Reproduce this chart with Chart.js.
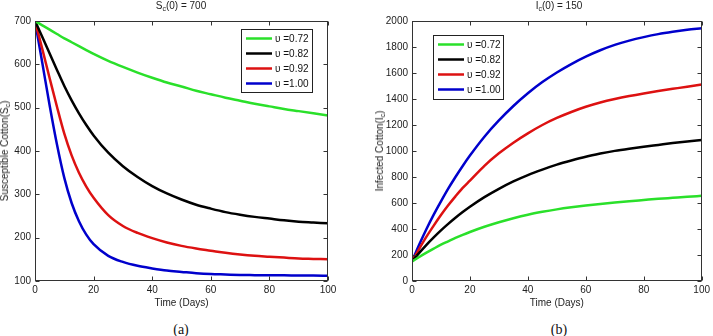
<!DOCTYPE html>
<html><head><meta charset="utf-8">
<script src="https://cdn.jsdelivr.net/npm/chart.js@4.4.0/dist/chart.umd.min.js"></script>
<style>
html,body{margin:0;padding:0;background:#fff;overflow:hidden;width:713px;height:336px;}
.wrap{position:absolute;top:0;}
.txt{position:absolute;font-family:"Liberation Sans",Arial,sans-serif;font-size:10px;color:#222;white-space:nowrap;line-height:12px;}
.txt sub{font-size:7px;vertical-align:-2px;line-height:0;}
.cap{position:absolute;font-family:"Liberation Serif",serif;font-size:14px;color:#111;line-height:14px;}
</style></head><body>
<div class="wrap" style="left:0;width:340px;height:315px;"><canvas id="c1" width="340" height="315"></canvas></div>
<div class="wrap" style="left:377px;width:336px;height:315px;"><canvas id="c2" width="336" height="315"></canvas></div>
<div class="txt" style="left:181px;top:0;transform:translateX(-50%)">S<sub>c</sub>(0) = 700</div>
<div class="txt" style="left:559px;top:0;transform:translateX(-50%)">I<sub>c</sub>(0) = 150</div>
<div class="txt" style="left:5px;top:151px;transform:translate(-50%,-50%) rotate(-90deg)">Susceptible Cotton(S<sub>c</sub>)</div>
<div class="txt" style="left:380px;top:151px;transform:translate(-50%,-50%) rotate(-90deg)">Infected Cotton(I<sub>c</sub>)</div>
<div class="cap" style="left:181px;top:323px;transform:translateX(-50%)">(a)</div>
<div class="cap" style="left:559px;top:323px;transform:translateX(-50%)">(b)</div>
<script>
// ---- data ----
const days = [0,2.5,5,7.5,10,12.5,15,17.5,20,25,30,35,40,45,50,55,60,65,70,75,80,85,90,95,100];
const nuLabels = ['\u03c5 =0.72','\u03c5 =0.82','\u03c5 =0.92','\u03c5 =1.00'];
const seriesColors = ['#2ae02a','#000000','#dd1111','#0000cc'];
// (a) Susceptible cotton
const susGreen = [700,690,680,670,660,651,642,633,624,608,594,581,569,558,549,539,531,523,516,509,503,497,492,487,482];
const susBlack = [700,663,625,587,550,517,487,460,436,396,365,340,319,302,288,276,267,259,253,248,244,240,237,235,233];
const susRed   = [700,635,568,502,440,390,350,318,292,252,227,211,199,189,181,175,170,165,161,158,156,154,152,151,150];
const susBlue  = [700,603,505,415,338,280,238,207,185,158,144,135,129,124,121,118,116,115,114,113.5,113,113,112.5,112.5,112];
// (b) Infected cotton
const infGreen = [150,185,218,249,279,305,331,355,377,417,452,483,510,532,551,567,581,593,604,614,623,632,640,648,655];
const infBlack = [150,216,278,335,389,439,486,530,571,645,709,766,815,857,895,927,956,980,1001,1018,1033,1047,1061,1073,1085];
const infRed   = [150,248,341,426,507,582,651,716,772,886,982,1064,1136,1200,1254,1300,1340,1373,1400,1423,1443,1461,1478,1495,1511];
const infBlue  = [150,280,400,510,612,710,800,885,965,1110,1235,1346,1444,1530,1604,1669,1726,1775,1816,1849,1876,1899,1917,1932,1944];
const xTicksStep = 20;

const FONT = '"Liberation Sans", Arial, sans-serif';

const framePlugin = {
  id: 'frame',
  afterDatasetsDraw(chart, args, opts) {
    const {ctx, chartArea: a, scales} = chart;
    ctx.save();
    ctx.strokeStyle = '#333';
    ctx.lineWidth = 1;
    const L = Math.round(a.left) + 0.5, R = Math.round(a.right) - 0.5;
    const T = Math.round(a.top) + 0.5, B = Math.round(a.bottom) - 0.5;
    ctx.strokeRect(L, T, R - L, B - T);
    ctx.beginPath();
    scales.x.ticks.forEach(t => {
      const px = Math.round(scales.x.getPixelForValue(t.value)) + 0.5;
      ctx.moveTo(px, B); ctx.lineTo(px, B - 4);
      ctx.moveTo(px, T); ctx.lineTo(px, T + 4);
    });
    scales.y.ticks.forEach(t => {
      const py = Math.round(scales.y.getPixelForValue(t.value)) + 0.5;
      ctx.moveTo(L, py); ctx.lineTo(L + 4, py);
      ctx.moveTo(R, py); ctx.lineTo(R - 4, py);
    });
    ctx.stroke();
    // legend
    const b = opts.box;
    if (b) {
      ctx.fillStyle = '#fff';
      ctx.fillRect(b.x, b.y, b.w, b.h);
      ctx.strokeStyle = '#222';
      ctx.lineWidth = 1;
      ctx.strokeRect(b.x + 0.5, b.y + 0.5, b.w, b.h);
      ctx.font = '10px ' + FONT;
      ctx.textBaseline = 'middle';
      ctx.textAlign = 'left';
      chart.data.datasets.forEach((ds, i) => {
        const cy = b.y + 9.5 + i * 15;
        ctx.strokeStyle = ds.borderColor;
        ctx.lineWidth = 2.5;
        ctx.beginPath();
        ctx.moveTo(b.x + 5, cy); ctx.lineTo(b.x + 31, cy);
        ctx.stroke();
        ctx.fillStyle = '#111';
        ctx.fillText(ds.label, b.x + 34, cy + 0.5);
      });
    }
    ctx.restore();
  }
};

function makeChart(id, vals, yMin, yMax, yStep, box, padRight) {
  const datasets = vals.map((v, i) => ({
    label: nuLabels[i],
    data: days.map((d, j) => ({x: d, y: v[j]})),
    borderColor: seriesColors[i],
    borderWidth: 2.5,
    pointRadius: 0,
    fill: false,
    cubicInterpolationMode: 'monotone'
  }));
  return new Chart(document.getElementById(id), {
    type: 'line',
    data: {datasets},
    plugins: [framePlugin],
    options: {
      responsive: false,
      animation: false,
      devicePixelRatio: 1,
      layout: {padding: {top: 21, right: padRight, bottom: 0, left: 0}},
      plugins: {legend: {display: false}, tooltip: {enabled: false}, title: {display: false},
                frame: {box}},
      scales: {
        x: {
          type: 'linear', min: 0, max: 100,
          ticks: {stepSize: xTicksStep, color: '#222', font: {family: FONT, size: 10}, padding: 3, maxRotation: 0,
                  callback: v => String(v)},
          grid: {display: false, drawTicks: false},
          border: {display: false},
          title: {display: true, text: 'Time (Days)', color: '#222', font: {family: FONT, size: 10}, padding: {top: 0, bottom: 6}},
          afterFit: s => { s.height = 34; }
        },
        y: {
          type: 'linear', min: yMin, max: yMax,
          ticks: {stepSize: yStep, color: '#222', font: {family: FONT, size: 10}, padding: 4,
                  callback: v => String(v)},
          grid: {display: false, drawTicks: false},
          border: {display: false},
          afterFit: s => { s.width = 35; }
        }
      }
    }
  });
}

makeChart('c1', [susGreen, susBlack, susRed, susBlue], 100, 700, 100, {x: 241, y: 29, w: 71, h: 63}, 12);
makeChart('c2', [infGreen, infBlack, infRed, infBlue], 0, 2000, 200, {x: 56, y: 35, w: 70, h: 64}, 8);
</script>
</body></html>
